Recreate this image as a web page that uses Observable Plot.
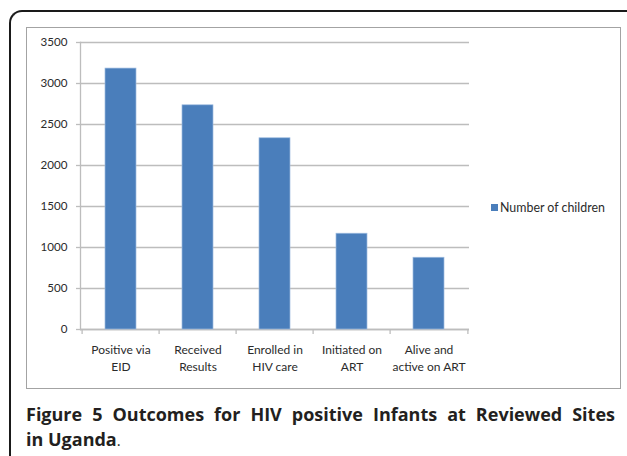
<!DOCTYPE html>
<html>
<head>
<meta charset="utf-8">
<script src="https://cdn.jsdelivr.net/npm/d3@7"></script>
<script src="https://cdn.jsdelivr.net/npm/@observablehq/plot@0.6"></script>
<style>
  html, body { margin: 0; padding: 0; background: #fff; }
  #page { position: relative; width: 627px; height: 456px; overflow: hidden; background: #fff; }
  #frame { position: absolute; left: 9px; top: 10px; width: 640px; height: 600px;
           border-left: 2px solid #1a1a1a; border-top: 2px solid #1a1a1a; border-top-left-radius: 13px; box-sizing: border-box; }
  #chartbox { position: absolute; left: 26px; top: 27px; width: 595px; height: 362px;
              border: 1.5px solid #a3a3a3; box-sizing: border-box; }
  #plot { position: absolute; left: 0; top: 0; }
  #legend { position: absolute; left: 491px; top: 199px; font-family: Lato, sans-serif; font-size: 12.4px; color: #2b2b2b;
            display: flex; align-items: center; height: 16px; }
  #legend .sw { width: 7px; height: 7px; margin-right: 2px; }
  #caption { position: absolute; left: 26px; top: 402px; width: 589px; font-family: "Open Sans", sans-serif;
             font-weight: 700; font-size: 18px; line-height: 25px; color: #231f20; }
  #caption .l1 { display: block; text-align: justify; text-align-last: justify; white-space: normal; }
  #caption .dot { font-weight: 400; font-size: 15px; }
</style>
</head>
<body>
<div id="page">
  <div id="frame"></div>
  <div id="chartbox"></div>
  <div id="plot"></div>
  <div id="legend"></div>
  <div id="caption"></div>
</div>
<script>
const categories = ["Positive via\nEID", "Received\nResults", "Enrolled in\nHIV care", "Initiated on\nART", "Alive and\nactive on ART"];
const values = [3182, 2734, 2332, 1168, 875];
const yTicks = [0, 500, 1000, 1500, 2000, 2500, 3000, 3500];
const seriesName = "Number of children";
const captionLine1 = "Figure 5 Outcomes for HIV positive Infants at Reviewed Sites";
const captionLine2 = "in Uganda";

const data = categories.map((c, i) => ({category: c, value: values[i]}));

const W = 627, H = 400, mL = 80, mR = 158;
const half = (W - mL - mR) / categories.length / 2;
const barColor = "#4a7ebb";
const gridColor = "#bdbdbd";

const chart = Plot.plot({
  width: W,
  height: H,
  marginLeft: mL,
  marginRight: mR,
  marginTop: 42,
  marginBottom: 71,
  style: {fontFamily: "Lato, sans-serif", fontSize: "11.6px", color: "#2b2b2b", background: "transparent"},
  x: {domain: categories, paddingInner: 0.6, paddingOuter: 0.3},
  y: {domain: [0, 3500]},
  marks: [
    Plot.gridY(yTicks, {stroke: gridColor, strokeOpacity: 1, strokeWidth: 1.3}),
    Plot.axisY(yTicks, {tickSize: 4, tickPadding: 9, stroke: gridColor, strokeWidth: 1.3, tickFormat: d => String(d), label: null}),
    Plot.frame({anchor: "left", stroke: gridColor, strokeWidth: 1.3}),
    Plot.ruleY([0], {stroke: gridColor, strokeWidth: 1.3}),
    Plot.barY(data, {x: "category", y: "value", fill: barColor, stroke: "#9dbbe0", strokeWidth: 0.7}),
    Plot.axisX(categories, {tickSize: 5, dx: -half, tickFormat: () => "", stroke: gridColor, strokeWidth: 1.3, label: null}),
    Plot.axisX([categories[categories.length - 1]], {tickSize: 5, dx: half, tickFormat: () => "", stroke: gridColor, strokeWidth: 1.3, label: null}),
    Plot.axisX(categories, {tickSize: 0, tickPadding: 12, lineHeight: 1.45, fontSize: 12, label: null})
  ]
});
document.getElementById("plot").appendChild(chart);

const legend = document.getElementById("legend");
const sw = document.createElement("span");
sw.className = "sw";
sw.style.background = barColor;
legend.appendChild(sw);
legend.appendChild(document.createTextNode(seriesName));

const cap = document.getElementById("caption");
const l1 = document.createElement("span");
l1.className = "l1";
l1.textContent = captionLine1;
cap.appendChild(l1);
cap.appendChild(document.createTextNode(captionLine2));
const dot = document.createElement("span");
dot.className = "dot";
dot.textContent = ".";
cap.appendChild(dot);
</script>
</body>
</html>
